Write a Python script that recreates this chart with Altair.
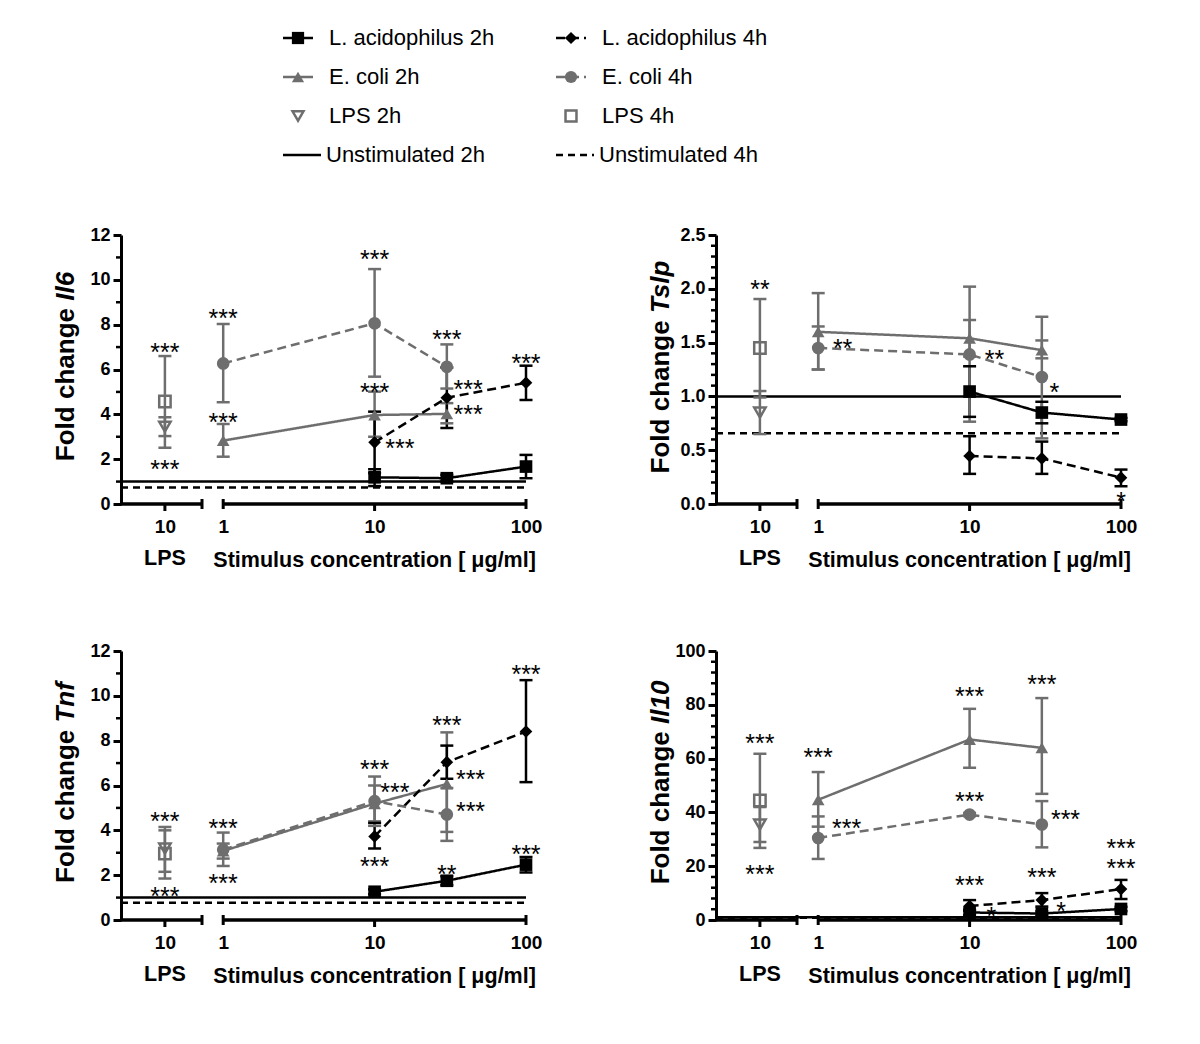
import altair as alt
import pandas as pd

FONT = "Liberation Sans"
BLACK = "#000000"
GRAY = "#6e6e6e"

SERIES = ["L. acidophilus 2h", "E. coli 2h", "LPS 2h", "Unstimulated 2h",
          "L. acidophilus 4h", "E. coli 4h", "LPS 4h", "Unstimulated 4h"]
SERIES_COLORS = [BLACK, GRAY, GRAY, BLACK, BLACK, GRAY, GRAY, BLACK]
SERIES_SHAPES = ["square", "triangle-up", "triangle-down", "circle",
                 "diamond", "circle", "square", "circle"]
SERIES_DASH = [[1, 0], [1, 0], [1, 0], [1, 0], [9, 5], [9, 5], [1, 0], [7, 5]]

# (concentration ug/ml, mean, low, high)
IL6_LA2 = [(10, 1.19, 0.80, 1.55), (30, 1.15, 1.00, 1.30), (100, 1.67, 1.15, 2.19)]
IL6_LA4 = [(10, 2.75, 1.38, 4.12), (30, 4.74, 3.39, 6.09), (100, 5.41, 4.64, 6.17)]
IL6_EC2 = [(1, 2.83, 2.11, 3.57), (10, 3.97, 3.00, 5.01), (30, 4.02, 3.60, 4.50)]
IL6_EC4 = [(1, 6.27, 4.54, 8.03), (10, 8.06, 5.68, 10.48), (30, 6.12, 5.15, 7.12)]
IL6_LPS2 = (3.45, 3.03, 3.87)
IL6_LPS4 = (4.57, 2.51, 6.60)
IL6_UNSTIM = [1.0, 0.74]
IL6_STARS = [("LPS", 10, 7.05, "***"), ("LPS", 10, 1.85, "***"),
             ("dose", 1, 8.58, "***"), ("dose", 1, 3.93, "***"),
             ("dose", 10, 11.18, "***"), ("dose", 10, 5.28, "***"),
             ("dose", 14.7, 2.78, "***"), ("dose", 30, 7.61, "***"),
             ("dose", 41.4, 5.38, "***"), ("dose", 41.4, 4.27, "***"),
             ("dose", 100, 6.57, "***")]

TSLP_LA2 = [(10, 1.045, 0.81, 1.28), (30, 0.85, 0.75, 0.95), (100, 0.785, 0.77, 0.80)]
TSLP_LA4 = [(10, 0.446, 0.28, 0.63), (30, 0.424, 0.28, 0.58), (100, 0.245, 0.165, 0.32)]
TSLP_EC2 = [(1, 1.60, 1.25, 1.96), (10, 1.54, 1.37, 1.71), (30, 1.43, 1.354, 1.52)]
TSLP_EC4 = [(1, 1.45, 1.25, 1.65), (10, 1.39, 0.765, 2.02), (30, 1.18, 0.61, 1.74)]
TSLP_LPS2 = (0.85, 0.65, 1.05)
TSLP_LPS4 = (1.45, 0.99, 1.905)
TSLP_UNSTIM = [1.0, 0.657]
TSLP_STARS = [("LPS", 10, 2.05, "**"), ("dose", 1.45, 1.51, "**"),
              ("dose", 14.6, 1.40, "**"), ("dose", 36.3, 1.10, "*"),
              ("dose", 100, 0.084, "*")]

TNF_LA2 = [(10, 1.26, 1.15, 1.37), (30, 1.75, 1.55, 1.95), (100, 2.47, 2.12, 2.81)]
TNF_LA4 = [(10, 3.73, 3.19, 4.33), (30, 7.04, 6.30, 7.78), (100, 8.41, 6.15, 10.70)]
TNF_EC2 = [(1, 3.08, 2.74, 3.41), (10, 5.19, 4.40, 6.00), (30, 6.07, 3.93, 8.37)]
TNF_EC4 = [(1, 3.14, 2.41, 3.90), (10, 5.30, 4.20, 6.40), (30, 4.71, 3.53, 5.89)]
TNF_LPS2 = (3.19, 2.15, 4.15)
TNF_LPS4 = (2.96, 1.85, 4.00)
TNF_UNSTIM = [1.0, 0.77]
TNF_STARS = [("LPS", 10, 4.70, "***"), ("LPS", 10, 1.36, "***"),
             ("dose", 1, 4.37, "***"), ("dose", 1, 1.90, "***"),
             ("dose", 10, 6.99, "***"), ("dose", 13.6, 6.0, "***"),
             ("dose", 10, 2.67, "***"), ("dose", 30, 8.96, "***"),
             ("dose", 43, 6.55, "***"), ("dose", 43, 5.11, "***"),
             ("dose", 30, 2.34, "**"), ("dose", 100, 11.26, "***"),
             ("dose", 100, 3.21, "***")]

IL10_LA2 = [(10, 2.8, 1.8, 3.8), (30, 2.4, 1.6, 3.2), (100, 4.1, 3.3, 4.9)]
IL10_LA4 = [(10, 5.2, 3.4, 7.4), (30, 7.4, 5.0, 10.0), (100, 11.5, 7.8, 14.9)]
IL10_EC2 = [(1, 44.7, 34.7, 55.0), (10, 67.1, 56.6, 78.5), (30, 64.0, 46.9, 82.5)]
IL10_EC4 = [(1, 30.5, 22.7, 38.5), (10, 39.2, 38.6, 39.8), (30, 35.5, 27.0, 44.2)]
IL10_LPS2 = (35.5, 29.0, 42.0)
IL10_LPS4 = (44.4, 26.8, 61.8)
IL10_UNSTIM = [1.0, 0.8]
IL10_STARS = [("LPS", 10, 68, "***"), ("LPS", 10, 19.4, "***"),
              ("dose", 1, 62.8, "***"), ("dose", 1.54, 36.4, "***"),
              ("dose", 10, 85.4, "***"), ("dose", 10, 46.3, "***"),
              ("dose", 10, 15.3, "***"), ("dose", 13.9, 3.7, "*"),
              ("dose", 30, 90, "***"), ("dose", 43, 39.8, "***"),
              ("dose", 30, 18.1, "***"), ("dose", 40.2, 5.6, "*"),
              ("dose", 100, 28.9, "***"), ("dose", 100, 21.5, "***")]

Y_TITLE = "Fold change"
GENES = ["Il6", "Tslp", "Tnf", "Il10"]
X_TITLE = "Stimulus concentration [ \u03bcg/ml]"
LPS_LABEL = "LPS"

# ---- layout ----
W, H = 405, 269
X_MIN = 10 ** -0.675
LPS_AT = 10 ** -0.385
LPS_END = 10 ** -0.14
TITLE_FS = 26
STAR_FS = 25
CHAR_W = {"I": .278, "l": .278, "6": .556, "T": .611, "s": .556, "p": .611,
          "n": .611, "f": .333, "1": .556, "0": .556}
FOLD_W = 5.89 * TITLE_FS
GAP_W = 0.278 * TITLE_FS

color = alt.Color("series:N", scale=alt.Scale(domain=SERIES, range=SERIES_COLORS), legend=None)
shape = alt.Shape("series:N", scale=alt.Scale(domain=SERIES, range=SERIES_SHAPES), legend=None)
dash = alt.StrokeDash("series:N", scale=alt.Scale(domain=SERIES, range=SERIES_DASH), legend=None)

xscale = alt.Scale(type="log", domain=[X_MIN, 100], nice=False)
xaxis = alt.Axis(values=[LPS_AT, 1, 10, 100],
                 labelExpr="datum.value < 0.9 ? '10' : format(datum.value, 'd')",
                 domain=False, ticks=False, grid=False, title=None,
                 labelFont=FONT, labelFontSize=19, labelFontWeight="bold",
                 labelColor=BLACK, labelPadding=13, labelFlush=False, labelOverlap=False)
XPOS = f"datum.stim == 'LPS' ? {LPS_AT} : datum.conc"


def panel(gene, la2, ec2, la4, ec4, lps2, lps4, unstim, stars, ymax, major, minor, fmt):
    rows = []
    for name, pts in (("L. acidophilus 2h", la2), ("E. coli 2h", ec2),
                      ("L. acidophilus 4h", la4), ("E. coli 4h", ec4)):
        for c, m, lo, hi in pts:
            rows.append(dict(series=name, stim="dose", conc=c, mean=m, lo=lo, hi=hi))
    for name, (m, lo, hi) in (("LPS 2h", lps2), ("LPS 4h", lps4)):
        rows.append(dict(series=name, stim="LPS", conc=10, mean=m, lo=lo, hi=hi))
    df = pd.DataFrame(rows)

    yscale = alt.Scale(domain=[0, ymax], nice=False, zero=True)
    majors = [round(i * major, 4) for i in range(int(round(ymax / major)) + 1)]
    minors = [round(i * minor, 4) for i in range(int(round(ymax / minor)) + 1)]
    minors = [v for v in minors if min(abs(v - m) for m in majors) > 1e-6]
    yaxis = alt.Axis(values=majors, format=fmt, grid=False, title=None,
                     domainWidth=3, domainColor=BLACK, tickWidth=3, tickSize=8,
                     tickColor=BLACK, labelFont=FONT, labelFontSize=18,
                     labelFontWeight="bold", labelColor=BLACK, labelPadding=3)
    X = lambda f: alt.X(f, type="quantitative", scale=xscale, axis=xaxis)
    Y = lambda f: alt.Y(f, type="quantitative", scale=yscale, axis=yaxis)

    base = alt.Chart(df).transform_calculate(x=XPOS)

    ref = alt.Chart(pd.DataFrame({"series": ["Unstimulated 2h", "Unstimulated 4h"],
                                  "level": unstim})).mark_rule(strokeWidth=2.5).encode(
        x=alt.XDatum(X_MIN, type="quantitative", scale=xscale, axis=xaxis),
        x2=alt.X2Datum(100), y=Y("level"), color=color, strokeDash=dash)

    segs = alt.Chart(pd.DataFrame({"a": [X_MIN, 1], "b": [LPS_END, 100]})).mark_rule(
        strokeWidth=3.5, color=BLACK).encode(x=X("a"), x2="b", y=alt.value(H))
    caps = alt.Chart(pd.DataFrame({"a": [LPS_END, 1, 100]})).mark_rule(
        strokeWidth=3, color=BLACK).encode(x=X("a"), y=alt.value(H - 5), y2=alt.value(H + 5))
    xticks = alt.Chart(pd.DataFrame({"a": [LPS_AT, 10]})).mark_rule(
        strokeWidth=3, color=BLACK).encode(x=X("a"), y=alt.value(H), y2=alt.value(H + 7))
    yminor = alt.Chart(pd.DataFrame({"v": minors})).mark_rule(
        strokeWidth=2.5, color=BLACK).encode(y=Y("v"), x=alt.value(-5), x2=alt.value(0))

    err = base.mark_rule(strokeWidth=2.5).encode(x=X("x"), y=Y("lo"), y2="hi", color=color)
    errcap = base.transform_fold(["lo", "hi"], as_=["end", "v"]).mark_rule(
        strokeWidth=2.5, xOffset=-6.5, x2Offset=6.5).encode(
        x=X("x"), x2="x:Q", y=Y("v"), color=color)
    lines = base.transform_filter("datum.stim == 'dose'").mark_line(strokeWidth=2.5).encode(
        x=X("x"), y=Y("mean"), color=color, strokeDash=dash, detail="series:N")
    pts = base.transform_filter("datum.stim == 'dose'").mark_point(
        filled=True, opacity=1, size=160).encode(x=X("x"), y=Y("mean"), color=color, shape=shape)
    open_pts = base.transform_filter("datum.stim == 'LPS'").mark_point(
        filled=False, opacity=1, size=130, strokeWidth=2.5).encode(
        x=X("x"), y=Y("mean"), color=color, shape=shape)

    sdf = pd.DataFrame(stars, columns=["stim", "conc", "y", "t"])
    star = alt.Chart(sdf).transform_calculate(x=XPOS).mark_text(
        font=FONT, fontSize=STAR_FS, baseline="alphabetic", dy=round(0.59 * STAR_FS),
        color=BLACK).encode(x=X("x"), y=Y("y"), text="t:N")

    gene_w = sum(CHAR_W[c] for c in gene) * TITLE_FS
    total = FOLD_W + GAP_W + gene_w
    bottom = H / 2 - 3 + total / 2
    tdf = pd.DataFrame({"t": [Y_TITLE], "g": [gene]})
    t1 = alt.Chart(tdf).mark_text(font=FONT, fontSize=TITLE_FS, fontWeight="bold", angle=270,
                                  align="left", baseline="alphabetic", color=BLACK).encode(
        x=alt.value(-47), y=alt.value(bottom), text="t:N")
    t2 = alt.Chart(tdf).mark_text(font=FONT, fontSize=TITLE_FS, fontWeight="bold",
                                  fontStyle="italic", angle=270, align="left",
                                  baseline="alphabetic", color=BLACK).encode(
        x=alt.value(-47), y=alt.value(bottom - FOLD_W - GAP_W), text="g:N")

    xt = alt.Chart(pd.DataFrame({"t": [X_TITLE], "c": [10.0]})).mark_text(
        font=FONT, fontSize=21.5, fontWeight="bold", baseline="alphabetic", color=BLACK).encode(
        x=X("c"), y=alt.value(H + 63), text="t:N")
    lt = alt.Chart(pd.DataFrame({"t": [LPS_LABEL], "c": [LPS_AT]})).mark_text(
        font=FONT, fontSize=21.5, fontWeight="bold", baseline="alphabetic", color=BLACK).encode(
        x=X("c"), y=alt.value(H + 61), text="t:N")

    return alt.layer(ref, segs, caps, xticks, yminor, err, errcap, lines, pts, open_pts,
                     star, t1, t2, xt, lt).properties(width=W, height=H)


p1 = panel("Il6", IL6_LA2, IL6_EC2, IL6_LA4, IL6_EC4, IL6_LPS2, IL6_LPS4, IL6_UNSTIM,
           IL6_STARS, 12, 2, 1, "d")
p2 = panel("Tslp", TSLP_LA2, TSLP_EC2, TSLP_LA4, TSLP_EC4, TSLP_LPS2, TSLP_LPS4, TSLP_UNSTIM,
           TSLP_STARS, 2.5, 0.5, 0.1, ".1f")
p3 = panel("Tnf", TNF_LA2, TNF_EC2, TNF_LA4, TNF_EC4, TNF_LPS2, TNF_LPS4, TNF_UNSTIM,
           TNF_STARS, 12, 2, 1, "d")
p4 = panel("Il10", IL10_LA2, IL10_EC2, IL10_LA4, IL10_EC4, IL10_LPS2, IL10_LPS4, IL10_UNSTIM,
           IL10_STARS, 100, 20, 4, "d")

# ---- legend ----
leg = pd.DataFrame({"series": SERIES,
                    "col": [i // 4 for i in range(len(SERIES))],
                    "row": [i % 4 for i in range(len(SERIES))]})
lx = alt.X("col:Q", scale=alt.Scale(domain=[0, 1], range=[162, 435]), axis=None)
ly = alt.Y("row:Q", scale=alt.Scale(domain=[0, 3], range=[25, 142]), axis=None)
lbase = alt.Chart(leg)
l_line = lbase.transform_filter("datum.row < 2").mark_rule(strokeWidth=2.5, x2Offset=30).encode(
    x=lx, x2="col:Q", y=ly, color=color, strokeDash=dash)
l_long = lbase.transform_filter("datum.row == 3").mark_rule(strokeWidth=2.5, x2Offset=38).encode(
    x=lx, x2="col:Q", y=ly, color=color, strokeDash=dash)
l_pts = lbase.transform_filter("datum.row < 2").mark_point(
    filled=True, opacity=1, size=150, xOffset=15).encode(x=lx, y=ly, color=color, shape=shape)
l_open = lbase.transform_filter("datum.row == 2").mark_point(
    filled=False, opacity=1, size=120, strokeWidth=2.5, xOffset=15).encode(
    x=lx, y=ly, color=color, shape=shape)
l_txt = lbase.transform_filter("datum.row < 3").mark_text(
    font=FONT, fontSize=22, align="left", baseline="middle", dx=46, color=BLACK).encode(
    x=lx, y=ly, text="series:N")
l_txt2 = lbase.transform_filter("datum.row == 3").mark_text(
    font=FONT, fontSize=22, align="left", baseline="middle", dx=43, color=BLACK).encode(
    x=lx, y=ly, text="series:N")
legend = alt.layer(l_line, l_long, l_pts, l_open, l_txt, l_txt2).properties(width=700, height=150)

grid = alt.vconcat(alt.hconcat(p1, p2, spacing=105), alt.hconcat(p3, p4, spacing=105), spacing=70)
chart = alt.vconcat(legend, grid, spacing=60).properties(
    padding={"left": 44, "top": 5, "right": 5, "bottom": 5}
).configure_view(stroke=None)

chart.save("out.html", embed_options={"renderer": "svg", "actions": False})
